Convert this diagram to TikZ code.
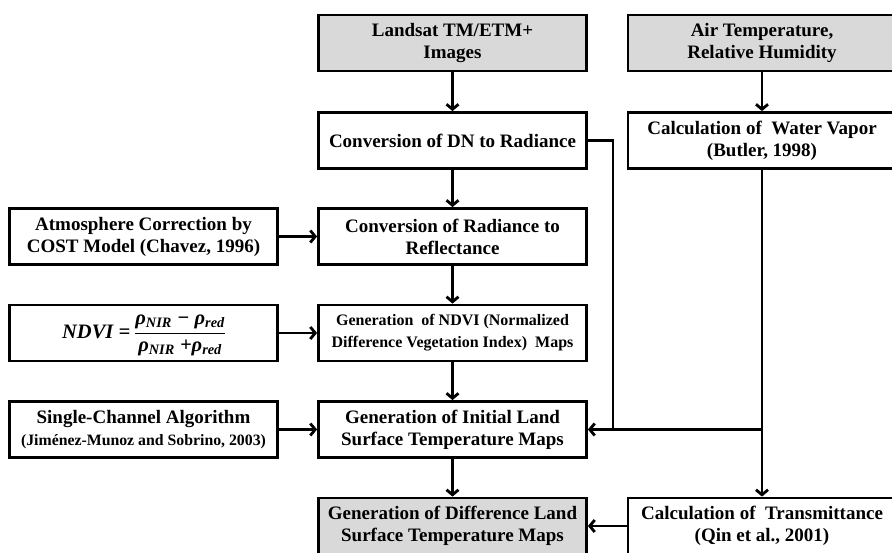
\documentclass[tikz,border=0pt]{standalone}
\usepackage{fontspec}
\setmainfont{Liberation Serif}
\usetikzlibrary{arrows.meta,calc}
\newcommand{\ndviformula}{\fontsize{20.5}{22}\selectfont\itshape NDVI = \renewcommand{\arraystretch}{1.2}\begin{tabular}{@{}c@{}}ρ\textsubscript{NIR} − ρ\textsubscript{red}\\\hline ρ\textsubscript{NIR} +ρ\textsubscript{red}\end{tabular}}
\tikzset{>={Straight Barb[length=5pt,width=12pt]}}
\tikzset{
	box/.style={draw, line width=2.8pt, minimum width=268pt, minimum height=56pt, align=center, inner sep=0pt, font=\bfseries\fontsize{19}{22}\selectfont},
	inbox/.style={box, fill=black!15},
	flow/.style={line width=2.8pt, ->, line join=miter},
	wire/.style={line width=2.8pt, line join=miter}
}

\begin{document}
\begin{tikzpicture}[x=1pt, y=-1pt]
	\clip (0,0) rectangle (892,553);
	% Input data
	\node[inbox] (land) at (452.5,43) {Landsat TM/ETM+\\Images};
	\node[inbox] (air) at (762,43) {Air Temperature,\\Relative Humidity};
	% Main chain
	\node[box] (dn) at (452.5,140.5) {Conversion of DN to Radiance};
	\node[box] (wv) at (762,140.5) {Calculation of~ Water Vapor\\(Butler, 1998)};
	\node[box] (refl) at (452.5,236.5) {Conversion of Radiance to\\Reflectance};
	\node[box, font=\bfseries\fontsize{16}{22}\selectfont] (ndvi) at (452.5,333) {Generation~ of NDVI (Normalized\\Difference Vegetation Index)~ Maps};
	\node[box] (ilst) at (452.5,429.5) {Generation of Initial Land\\Surface Temperature Maps};
	\node[inbox] (dlst) at (452.5,526) {Generation of Difference Land\\Surface Temperature Maps};
	\node[box] (trans) at (762,526) {Calculation of~ Transmittance\\(Qin et al., 2001)};
	% Side inputs
	\node[box] (atm) at (143.5,236.5) {Atmosphere Correction by\\COST Model (Chavez, 1996)};
	\node[box] (ndvieq) at (143.5,333) {\ndviformula};
	\node[box] (sca) at (143.5,429.5) {Single-Channel Algorithm\\{\fontsize{15.8}{20}\selectfont (Jiménez-Munoz and Sobrino, 2003)}};
	\coordinate (bend) at (613,429.5); %corner of radiance branch

	% Drawing everything
	\draw[flow] (land) -- (dn);
	\draw[flow] (air) -- (wv);
	\draw[flow] (dn) -- (refl);
	\draw[flow] (refl) -- (ndvi);
	\draw[flow] (ndvi) -- (ilst);
	\draw[flow] (ilst) -- (dlst);
	\draw[flow] (atm) -- (refl);
	\draw[flow] (ndvieq) -- (ndvi);
	\draw[flow] (sca) -- (ilst);
	\draw[wire] (dn.east) -| (bend);
	\draw[flow] (wv) -- (trans);
	\draw[flow] (wv.south |- ilst.east) -- (ilst.east);
	\draw[flow] (trans) -- (dlst);
\end{tikzpicture}
\end{document}
